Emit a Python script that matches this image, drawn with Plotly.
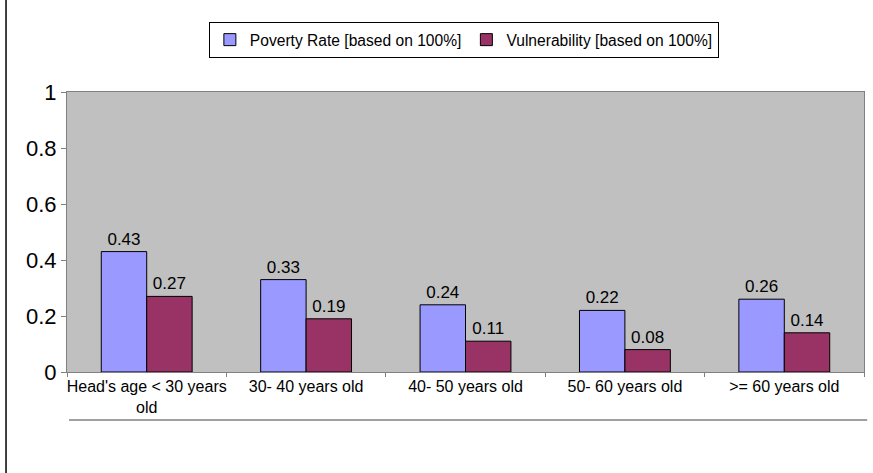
import plotly.graph_objects as go

categories = ["Head's age < 30 years<br>old", "30- 40 years old", "40- 50 years old",
              "50- 60 years old", ">= 60 years old"]
poverty = [0.43, 0.33, 0.24, 0.22, 0.26]
vulnerability = [0.27, 0.19, 0.11, 0.08, 0.14]
series_names = ["Poverty Rate [based on 100%]", "Vulnerability [based on 100%]"]
y_ticks = [0, 0.2, 0.4, 0.6, 0.8, 1]
y_tick_labels = ["0", "0.2", "0.4", "0.6", "0.8", "1"]

FONT = "Liberation Sans, Arial, sans-serif"

fig = go.Figure()
fig.add_trace(go.Bar(
    x=categories, y=poverty, name=series_names[0],
    marker=dict(color="#9999FF", line=dict(color="black", width=1)),
    text=[f"{v:.2f}" for v in poverty], textposition="outside",
    textfont=dict(size=17, color="black", family=FONT), cliponaxis=False,
))
fig.add_trace(go.Bar(
    x=categories, y=vulnerability, name=series_names[1],
    marker=dict(color="#993366", line=dict(color="black", width=1)),
    text=[f"{v:.2f}" for v in vulnerability], textposition="outside",
    textfont=dict(size=17, color="black", family=FONT), cliponaxis=False,
))

fig.update_layout(
    width=873, height=473,
    margin=dict(l=67, r=9, t=92, b=101, autoexpand=False),
    paper_bgcolor="white", plot_bgcolor="#C0C0C0",
    barmode="group", bargap=0.43, bargroupgap=0,
    font=dict(family=FONT, color="black"),
    showlegend=True,
    legend=dict(
        orientation="h", x=0.178, xanchor="left", y=1.25, yanchor="top",
        bgcolor="white", bordercolor="black", borderwidth=1,
        font=dict(size=15.6, family=FONT), itemwidth=30,
        tracegroupgap=0,
    ),
)
fig.update_yaxes(
    range=[0, 1], tickvals=y_ticks, ticktext=y_tick_labels,
    showgrid=False, zeroline=False, automargin=False,
    showline=True, linecolor="#808080", linewidth=1, mirror=True,
    ticks="outside", ticklen=5, tickcolor="#808080",
    tickfont=dict(size=22, family=FONT, color="black"),
)
fig.update_xaxes(
    showgrid=False, zeroline=False, automargin=False, tickangle=0,
    showline=True, linecolor="#808080", linewidth=1, mirror=True,
    ticks="outside", ticklen=4, tickcolor="#808080", tickson="boundaries",
    tickfont=dict(size=16, family=FONT, color="black"),
)
# line below the category labels
fig.add_shape(type="line", xref="paper", yref="paper",
              x0=0.0025, x1=1.004, y0=-0.171, y1=-0.171,
              line=dict(color="#808080", width=1.5))
# outer chart border on the left
fig.add_shape(type="line", xref="paper", yref="paper",
              x0=-0.0765, x1=-0.0765, y0=-0.37, y1=1.34,
              line=dict(color="black", width=1.5))

fig.write_html("out.html", config={"displayModeBar": False},
               post_script="document.body.style.margin='0';")
